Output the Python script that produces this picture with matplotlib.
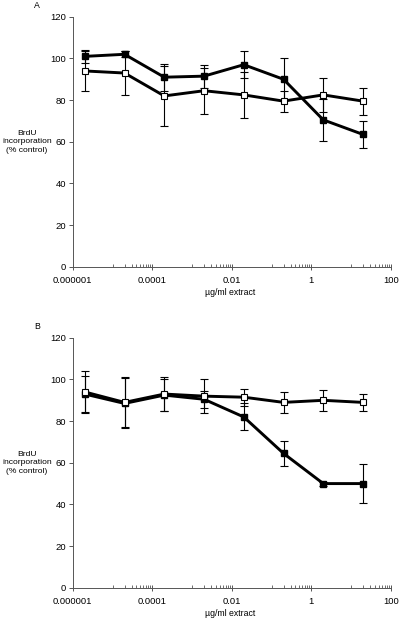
import matplotlib
matplotlib.use("Agg")
import matplotlib.pyplot as plt
from matplotlib.ticker import NullFormatter

plt.rcParams['font.family'] = ['Liberation Sans', 'DejaVu Sans']

# concentrations (ug/ml)
conc = [2e-6, 2e-5, 2e-4, 2e-3, 2e-2, 2e-1, 2, 20]

# panel A
a_filled = [101, 102, 91, 91.5, 97, 90, 70.5, 63.5]
a_filled_err = [3, 1.5, 6.5, 5.5, 6.5, 10, 10, 6.5]
a_open = [94, 93, 82, 84.5, 82.5, 79.5, 82.5, 79.5]
a_open_err = [9.5, 10.5, 14.5, 11, 11, 5, 8, 6.5]

# panel B
b_filled = [93, 88.5, 92.5, 90.5, 82, 64.5, 50, 50]
b_filled_err = [8.5, 12, 7.5, 4, 6.5, 6, 1, 9.5]
b_open = [94, 89, 93, 92, 91.5, 89, 90, 89]
b_open_err = [10, 12, 8, 8.3, 4, 5, 5, 4]

xticks = [1e-6, 1e-4, 1e-2, 1, 100]
xticklabels = ['0.000001', '0.0001', '0.01', '1', '100']
yticks = [0, 20, 40, 60, 80, 100, 120]

fig = plt.figure(figsize=(4, 6.23), dpi=100)
axA = fig.add_axes([0.182, 0.572, 0.795, 0.401])
axB = fig.add_axes([0.182, 0.0567, 0.795, 0.401])


def panel(ax, filled, ferr, opn, oerr, letter):
    ax.errorbar(conc, filled, yerr=ferr, color='k', lw=2.1, marker='s', ms=4.2,
                mfc='k', mec='k', ecolor='k', elinewidth=0.8, capsize=2.8,
                capthick=0.8, zorder=3)
    ax.errorbar(conc, opn, yerr=oerr, color='k', lw=2.1, marker='s', ms=4.4,
                mfc='white', mec='k', mew=0.8, ecolor='k', elinewidth=0.8,
                capsize=2.8, capthick=0.8, zorder=4)
    ax.set_xscale('log')
    ax.set_xlim(1e-6, 100)
    ax.set_ylim(0, 120)
    ax.set_xticks(xticks)
    ax.set_xticklabels(xticklabels)
    minor = [k * 10.0 ** (n + 1) for n in range(-6, 2, 2) for k in range(1, 10)]
    ax.set_xticks(minor, minor=True)
    ax.xaxis.set_minor_formatter(NullFormatter())
    ax.set_yticks(yticks)
    ax.set_yticklabels([str(v) for v in yticks])
    for s in ['top', 'right']:
        ax.spines[s].set_visible(False)
    for s in ['left', 'bottom']:
        ax.spines[s].set_color('#555555')
        ax.spines[s].set_linewidth(0.7)
    ax.tick_params(axis='x', which='major', direction='inout', length=4,
                   width=0.7, color='#555555', pad=4.5, labelsize=6.8)
    ax.tick_params(axis='x', which='minor', direction='in', length=2,
                   width=0.6, color='#555555')
    ax.tick_params(axis='y', which='major', direction='out', length=3,
                   width=0.7, color='#555555', pad=2, labelsize=6.8)
    ax.text(-0.145, 0.5, 'BrdU\nincorporation\n(% control)', transform=ax.transAxes,
            ha='center', va='center', fontsize=6.1, linespacing=1.3)
    ax.text(0.495, -0.105, '\u00b5g/ml extract', transform=ax.transAxes,
            ha='center', va='center', fontsize=6.3)
    ax.text(-0.112, 1.045, letter, transform=ax.transAxes,
            ha='center', va='center', fontsize=6.3)


panel(axA, a_filled, a_filled_err, a_open, a_open_err, 'A')
panel(axB, b_filled, b_filled_err, b_open, b_open_err, 'B')

fig.savefig('out.png', dpi=100)
